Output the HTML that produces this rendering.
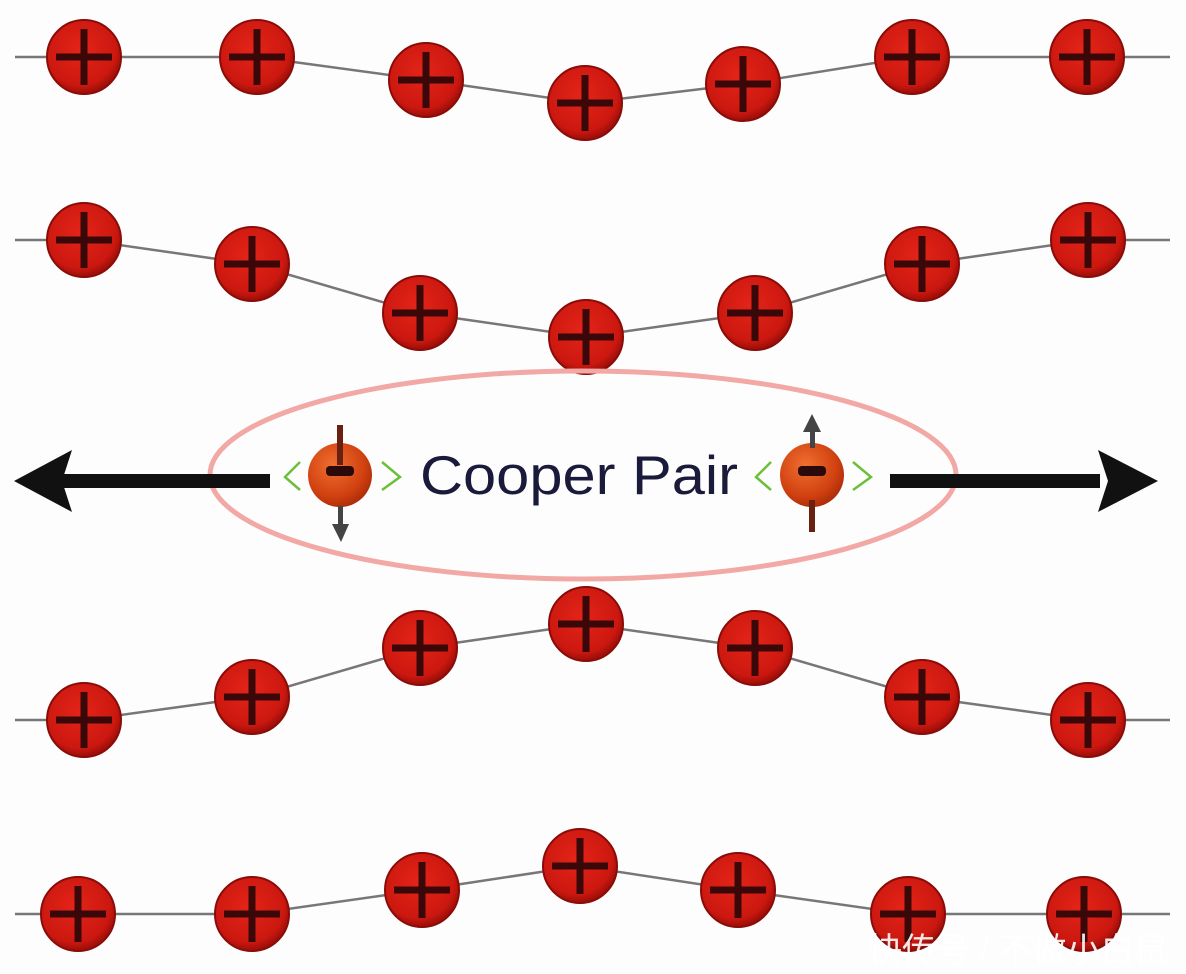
<!DOCTYPE html>
<html><head><meta charset="utf-8"><style>
html,body{margin:0;padding:0;background:#fdfdfd;}
svg{display:block}
</style></head><body>
<svg width="1186" height="974" viewBox="0 0 1186 974" xmlns="http://www.w3.org/2000/svg">
<defs>
<radialGradient id="ion" cx="0.45" cy="0.4" r="0.6">
<stop offset="0" stop-color="#e42418"/><stop offset="0.8" stop-color="#cc1810"/><stop offset="1" stop-color="#9a0e08"/>
</radialGradient>
<radialGradient id="el" cx="0.4" cy="0.35" r="0.7">
<stop offset="0" stop-color="#f07030"/><stop offset="0.7" stop-color="#d04010"/><stop offset="1" stop-color="#a82a08"/>
</radialGradient>
<g id="p">
<circle r="37" fill="url(#ion)" stroke="#8a0c08" stroke-width="2"/>
<rect x="-28" y="-3.5" width="56" height="7" fill="#3a0808"/>
<rect x="-3.5" y="-28" width="7" height="56" fill="#3a0808"/>
</g>
</defs>
<g fill="none" stroke="#777" stroke-width="2.5">
<polyline points="15,57 84,57 257,57 426,80 585,103 743,84 912,57 1087,57 1170,57"/>
<polyline points="15,240 84,240 252,264 420,313 586,337 755,313 922,264 1088,240 1170,240"/>
<polyline points="15,720 84,720 252,697 420,648 586,624 755,648 922,697 1088,720 1170,720"/>
<polyline points="15,914 78,914 252,914 422,890 580,866 738,890 908,914 1084,914 1170,914"/>
</g>
<use href="#p" x="84" y="57"/><use href="#p" x="257" y="57"/><use href="#p" x="426" y="80"/><use href="#p" x="585" y="103"/><use href="#p" x="743" y="84"/><use href="#p" x="912" y="57"/><use href="#p" x="1087" y="57"/>
<use href="#p" x="84" y="240"/><use href="#p" x="252" y="264"/><use href="#p" x="420" y="313"/><use href="#p" x="586" y="337"/><use href="#p" x="755" y="313"/><use href="#p" x="922" y="264"/><use href="#p" x="1088" y="240"/>
<use href="#p" x="84" y="720"/><use href="#p" x="252" y="697"/><use href="#p" x="420" y="648"/><use href="#p" x="586" y="624"/><use href="#p" x="755" y="648"/><use href="#p" x="922" y="697"/><use href="#p" x="1088" y="720"/>
<use href="#p" x="78" y="914"/><use href="#p" x="252" y="914"/><use href="#p" x="422" y="890"/><use href="#p" x="580" y="866"/><use href="#p" x="738" y="890"/><use href="#p" x="908" y="914"/><use href="#p" x="1084" y="914"/>
<ellipse cx="583" cy="475" rx="373" ry="104" fill="none" stroke="#f2a8a4" stroke-width="5"/>
<rect x="60" y="474" width="210" height="14" fill="#111"/>
<polygon points="14,481 72,450 62,481 72,512" fill="#111"/>
<rect x="890" y="474" width="210" height="14" fill="#111"/>
<polygon points="1158,481 1098,450 1108,481 1098,512" fill="#111"/>
<text x="420" y="494" textLength="318" lengthAdjust="spacingAndGlyphs" font-family="Liberation Sans, sans-serif" font-size="55" fill="#1a1a3a">Cooper Pair</text>
<g>
<path d="M300,462 L285,477 L300,490 M382,462 L400,477 L382,490" fill="none" stroke="#6cbf3a" stroke-width="2.5"/>
<circle cx="340" cy="475" r="32" fill="url(#el)"/>
<rect x="326" y="466" width="28" height="10" rx="4" fill="#2a0a0a"/>
<rect x="337" y="425" width="6" height="40" fill="#6a2010"/>
<rect x="338" y="506" width="5" height="22" fill="#444"/>
<polygon points="332,524 349,524 341,542" fill="#444"/>
</g>
<g>
<path d="M771,462 L756,477 L771,490 M853,462 L871,477 L853,490" fill="none" stroke="#6cbf3a" stroke-width="2.5"/>
<circle cx="812" cy="475" r="32" fill="url(#el)"/>
<rect x="798" y="466" width="28" height="10" rx="4" fill="#2a0a0a"/>
<rect x="810" y="428" width="5" height="20" fill="#444"/>
<polygon points="803,432 821,432 812,414" fill="#444"/>
<rect x="809" y="500" width="6" height="32" fill="#6a2010"/>
</g>
<text x="868" y="962" font-family="Liberation Sans, Noto Sans CJK SC, sans-serif" font-size="34" fill="#ffffff" fill-opacity="0.9">快传号 / 不做小白鼠</text>
</svg>
</body></html>
